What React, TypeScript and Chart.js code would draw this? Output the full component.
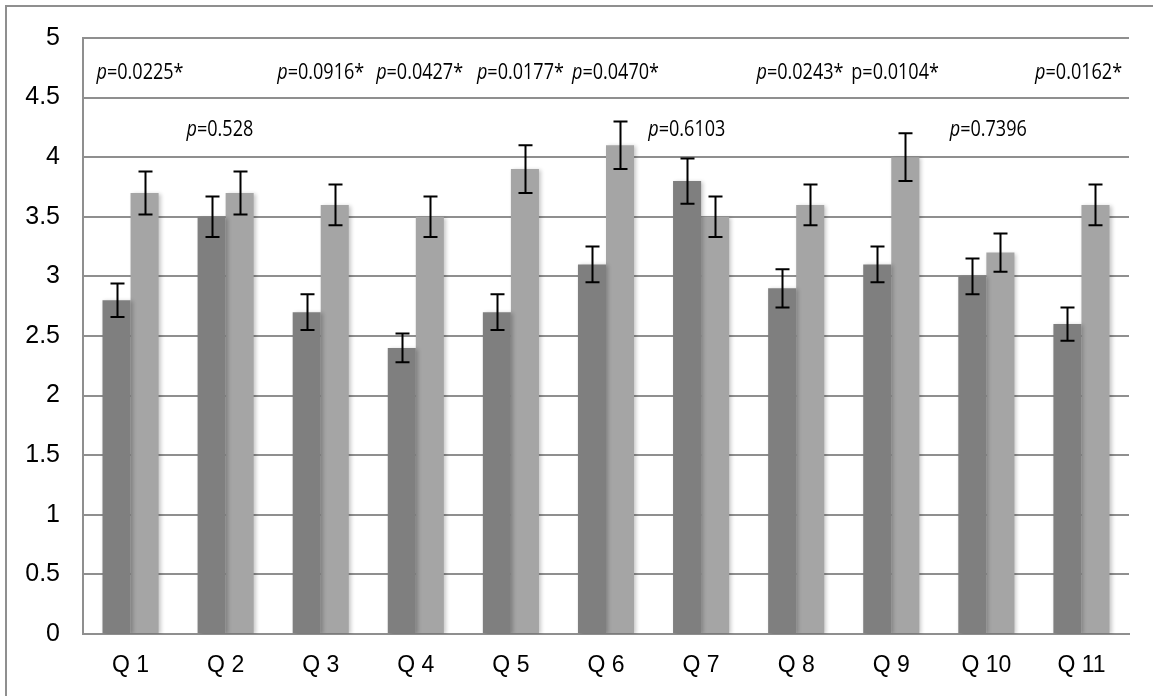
import React, { useEffect, useRef } from "react";
import { Chart, registerables } from "chart.js";

Chart.register(...registerables);

const categories = ["Q 1", "Q 2", "Q 3", "Q 4", "Q 5", "Q 6", "Q 7", "Q 8", "Q 9", "Q 10", "Q 11"];
const groupA = [2.8, 3.5, 2.7, 2.4, 2.7, 3.1, 3.8, 2.9, 3.1, 3.0, 2.6];
const groupB = [3.7, 3.7, 3.6, 3.5, 3.9, 4.1, 3.5, 3.6, 4.0, 3.2, 3.6];
const errA = [0.14, 0.17, 0.15, 0.12, 0.15, 0.15, 0.19, 0.16, 0.15, 0.15, 0.14];
const errB = [0.18, 0.18, 0.17, 0.17, 0.2, 0.2, 0.17, 0.17, 0.2, 0.16, 0.17];
const pValues = ["0.0225*", "0.528", "0.0916*", "0.0427*", "0.0177*", "0.0470*", "0.6103", "0.0243*", "0.0104*", "0.7396", "0.0162*"];
const pItalic = [true, true, true, true, true, true, true, true, false, true, true];
const pSignificant = [true, false, true, true, true, true, false, true, true, false, true];
const yTicks = [0, 0.5, 1, 1.5, 2, 2.5, 3, 3.5, 4, 4.5, 5];

const GRID = "#8f8f8f";
const PFONT = "'Open Sans', 'DejaVu Sans', sans-serif";

const framePlugin = {
  id: "frame",
  beforeDraw(chart: any) {
    const ctx = chart.ctx;
    ctx.save();
    ctx.fillStyle = "#ffffff";
    ctx.fillRect(0, 0, chart.width, chart.height);
    ctx.strokeStyle = GRID;
    ctx.lineWidth = 2;
    ctx.beginPath();
    ctx.moveTo(6, chart.height);
    ctx.lineTo(6, 6);
    ctx.lineTo(chart.width, 6);
    ctx.stroke();
    ctx.restore();
  },
};

const shadowPlugin = {
  id: "barShadow",
  beforeDatasetsDraw(chart: any) {
    const ctx = chart.ctx;
    ctx.save();
    ctx.shadowColor = "rgba(0,0,0,0.22)";
    ctx.shadowBlur = 4;
    ctx.shadowOffsetX = 2;
    ctx.shadowOffsetY = 1;
  },
  afterDatasetsDraw(chart: any) {
    chart.ctx.restore();
  },
};

const errorBarPlugin = {
  id: "errorBars",
  afterDatasetsDraw(chart: any) {
    const ctx = chart.ctx;
    const y = chart.scales.y;
    const errs = [errA, errB];
    const vals = [groupA, groupB];
    ctx.save();
    ctx.strokeStyle = "#000000";
    ctx.lineWidth = 2;
    [0, 1].forEach((d) => {
      const meta = chart.getDatasetMeta(d);
      meta.data.forEach((bar: any, i: number) => {
        const x = Math.round(bar.x) + 0.5;
        const top = y.getPixelForValue(vals[d][i] + errs[d][i]);
        const bot = y.getPixelForValue(vals[d][i] - errs[d][i]);
        ctx.beginPath();
        ctx.moveTo(x, top);
        ctx.lineTo(x, bot);
        ctx.moveTo(x - 7, top);
        ctx.lineTo(x + 7, top);
        ctx.moveTo(x - 7, bot);
        ctx.lineTo(x + 7, bot);
        ctx.stroke();
      });
    });
    ctx.restore();
  },
};

const pLabelPlugin = {
  id: "pLabels",
  afterDraw(chart: any, _args: any, opts: any) {
    const ctx = chart.ctx;
    const xs = chart.scales.x;
    const ys = chart.scales.y;
    const sx = opts.squeeze;
    pValues.forEach((pv, i) => {
      const level = pSignificant[i] ? opts.highLevel : opts.lowLevel;
      const cy = ys.getPixelForValue(level);
      const cx = xs.getPixelForValue(i) + (opts.shift[i] || 0) * (xs.width / categories.length);
      const pFont = `${pItalic[i] ? "italic " : ""}${opts.size}px ${PFONT}`;
      const restFont = `${opts.size}px ${PFONT}`;
      ctx.save();
      ctx.fillStyle = "#000000";
      ctx.textBaseline = "middle";
      ctx.textAlign = "left";
      ctx.font = pFont;
      const wp = ctx.measureText("p").width;
      ctx.font = restFont;
      const rest = "=" + pv;
      const wr = ctx.measureText(rest).width;
      ctx.translate(cx, cy);
      ctx.scale(sx, 1);
      const left = -(wp + wr) / 2;
      ctx.font = pFont;
      ctx.fillText("p", left, 0);
      ctx.font = restFont;
      ctx.fillText(rest, left + wp, 0);
      ctx.restore();
    });
  },
};

export default function App() {
  const ref = useRef<HTMLCanvasElement | null>(null);
  useEffect(() => {
    if (!ref.current) return;
    const chart = new Chart(ref.current, {
      type: "bar",
      data: {
        labels: categories,
        datasets: [
          {
            label: "Group A",
            data: groupA,
            backgroundColor: "#7f7f7f",
            categoryPercentage: 0.59,
            barPercentage: 1,
          },
          {
            label: "Group B",
            data: groupB,
            backgroundColor: "#a5a5a5",
            categoryPercentage: 0.59,
            barPercentage: 1,
          },
        ],
      },
      options: {
        animation: false,
        responsive: false,
        layout: { padding: { left: 0, top: 36, right: 24, bottom: 0 } },
        plugins: {
          legend: { display: false },
          tooltip: { enabled: false },
          pLabels: {
            highLevel: 4.71,
            lowLevel: 4.23,
            size: 22,
            squeeze: 0.82,
            shift: [0.1, -0.06, 0, 0.04, 0.1, 0.1, -0.15, 0.04, 0.04, 0.02, -0.03],
          },
        } as any,
        scales: {
          x: {
            grid: { display: false, drawTicks: false },
            border: { display: true, color: GRID, width: 2 },
            ticks: {
              color: "#000000",
              padding: 18,
              font: { family: "'Liberation Sans', Arial, sans-serif", size: 23 },
            },
            afterFit(scale: any) {
              scale.height = 62;
            },
          },
          y: {
            min: 0,
            max: 5,
            afterBuildTicks(scale: any) {
              scale.ticks = yTicks.map((v) => ({ value: v }));
            },
            grid: { color: GRID, lineWidth: 2, drawTicks: false },
            border: { display: true, color: GRID, width: 2 },
            ticks: {
              color: "#000000",
              padding: 23,
              font: { family: "'Liberation Sans', Arial, sans-serif", size: 25 },
              callback: (v: any) => String(v),
            },
            afterFit(scale: any) {
              scale.width = 83;
            },
          },
        },
      },
      plugins: [framePlugin, shadowPlugin, errorBarPlugin, pLabelPlugin],
    });
    return () => chart.destroy();
  }, []);
  return (
    <div style={{ position: "fixed", left: 0, top: 0, width: 1153, height: 696, background: "#fff" }}>
      <canvas ref={ref} width={1153} height={696} style={{ display: "block", width: 1153, height: 696 }} />
    </div>
  );
}
